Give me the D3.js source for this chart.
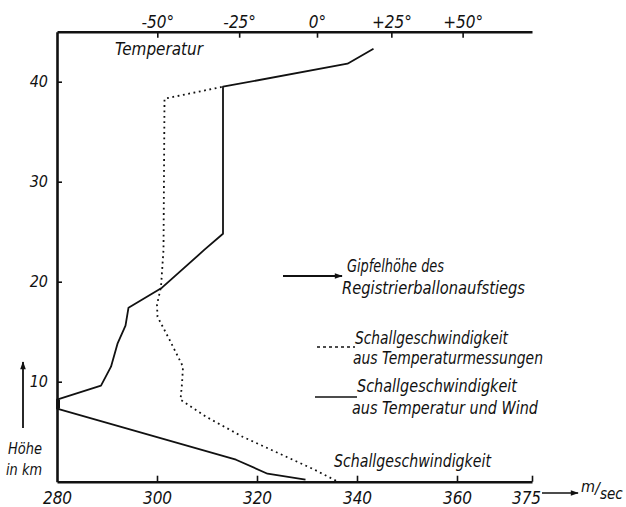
<!DOCTYPE html>
<html><head><meta charset="utf-8">
<script src="https://cdn.jsdelivr.net/npm/d3@7"></script>
<style>
html,body{margin:0;padding:0;background:#fff;}
svg text{font-family:"Liberation Sans Narrow","DejaVu Sans Condensed","Liberation Sans",sans-serif;font-style:italic;fill:#111;}
</style></head>
<body><svg id="c" width="626" height="507"></svg>
<script>
// ---- data ----
const heightTicks = [10, 20, 30, 40];
const speedTicks = [280, 300, 320, 340, 360, 375];
const tempTicks = [-50, -25, 0, 25, 50];
const tempTickLabels = ["-50°", "-25°", "0°", "+25°", "+50°"];
// Schallgeschwindigkeit aus Temperatur und Wind (solid)
const windSpeed  = [329.7, 322.1, 315.8, 280.0, 280.0, 288.8, 290.8, 292.1, 293.7, 294.3, 301.0, 309.5, 313.2, 313.2, 338.1, 343.3];
const windHeight = [0.2,   0.8,   2.2,   7.3,   8.2,   9.6,   11.5,  13.8,  15.6,  17.4,  19.4,  23.2,  24.8,  39.5,  41.8,  43.3];
// Schallgeschwindigkeit aus Temperaturmessungen (dotted)
const tempSpeed  = [335.8, 331.1, 317.1, 309.8, 304.7, 305.0, 305.2, 302.5, 300.1, 300.0, 300.8, 301.3, 301.5, 313.2];
const tempHeight = [0.1,   1.3,   4.5,   6.5,   8.2,   9.8,   11.5,  14.2,  16.5,  17.7,  19.5,  23.2,  38.3,  39.5];

const svg = d3.select("#c");
const x = d3.scaleLinear().domain([280, 375]).range([57, 532]);
const y = d3.scaleLinear().domain([0, 45]).range([481.7, 31.7]);
const tempToSpeed = t => 332 * Math.sqrt(1 + t / 273);
const ink = "#111";

// axes
const gB = svg.append("g").attr("transform", `translate(0,${y(0)})`)
  .call(d3.axisBottom(x).tickValues(speedTicks).tickSizeInner(-6).tickSizeOuter(0).tickPadding(10).tickFormat(d3.format("d")));
const gL = svg.append("g").attr("transform", `translate(${x(280)},0)`)
  .call(d3.axisLeft(y).tickValues(heightTicks).tickSizeInner(-5).tickSizeOuter(0).tickPadding(9).tickFormat(d3.format("d")));
const gT = svg.append("g").attr("transform", `translate(0,${y(45)})`)
  .call(d3.axisTop(x).tickValues(tempTicks.map(tempToSpeed)).tickSizeInner(-6).tickSizeOuter(0).tickPadding(4)
    .tickFormat((d, i) => tempTickLabels[i]));
[gB, gL, gT].forEach(g => {
  g.select(".domain").attr("stroke", ink).attr("stroke-width", 2.6);
  g.selectAll(".tick line").attr("stroke", ink).attr("stroke-width", 1.6);
  g.selectAll(".tick text").attr("font-size", 17).attr("fill", ink)
    .style("font-family", '"Liberation Sans Narrow","DejaVu Sans Condensed",sans-serif').style("font-style", "italic");
});
gL.selectAll(".tick text").attr("font-size", 16);
gB.selectAll(".tick").filter(d => d === 280).select("line").remove();
gB.selectAll(".tick").filter(d => d === 375).select("text").attr("dx", -6);

// lines
const line = d3.line().x(d => x(d[0])).y(d => y(d[1]));
svg.append("path").datum(tempSpeed.map((v, i) => [v, tempHeight[i]]))
  .attr("d", line).attr("fill", "none").attr("stroke", ink).attr("stroke-width", 1.8)
  .attr("stroke-dasharray", "1.8,3.6");
svg.append("path").datum(windSpeed.map((v, i) => [v, windHeight[i]]))
  .attr("d", line).attr("fill", "none").attr("stroke", ink).attr("stroke-width", 1.8).attr("stroke-linejoin", "round");
svg.append("line").attr("x1", x(280) + 1.5).attr("x2", x(280) + 1.5).attr("y1", y(8.2)).attr("y2", y(7.3))
  .attr("stroke", ink).attr("stroke-width", 3);

// arrow markers
const defs = svg.append("defs");
defs.append("marker").attr("id", "ah").attr("viewBox", "0 0 10 10").attr("refX", 9).attr("refY", 5)
  .attr("markerWidth", 10).attr("markerHeight", 8).attr("markerUnits", "userSpaceOnUse").attr("orient", "auto")
  .append("path").attr("d", "M0,1.5 L10,5 L0,8.5 Z").attr("fill", ink);

function txt(s, xx, yy, size, len) {
  const t = svg.append("text").attr("x", xx).attr("y", yy).attr("font-size", size).text(s);
  if (len) t.attr("textLength", len).attr("lengthAdjust", "spacingAndGlyphs");
  return t;
}

txt("Temperatur", 115, 55, 17, 88);

svg.append("line").attr("x1", 283).attr("x2", 342).attr("y1", 276).attr("y2", 276)
  .attr("stroke", ink).attr("stroke-width", 1.8).attr("marker-end", "url(#ah)");
txt("Gipfelhöhe des", 347, 272, 17, 97);
txt("Registrierballonaufstiegs", 342, 294, 17, 183);

svg.append("line").attr("x1", 317).attr("x2", 355).attr("y1", 347).attr("y2", 347)
  .attr("stroke", ink).attr("stroke-width", 1.4).attr("stroke-dasharray", "3,3");
txt("Schallgeschwindigkeit", 355, 344, 17, 153);
txt("aus Temperaturmessungen", 353, 364, 17, 190);
svg.append("line").attr("x1", 315).attr("x2", 357).attr("y1", 397).attr("y2", 397)
  .attr("stroke", ink).attr("stroke-width", 1.4);
txt("Schallgeschwindigkeit", 357, 392, 17, 160);
txt("aus Temperatur und Wind", 352, 414, 17, 186);

txt("Schallgeschwindigkeit", 334, 467, 17, 157);

svg.append("line").attr("x1", 542).attr("x2", 578).attr("y1", 493).attr("y2", 493)
  .attr("stroke", ink).attr("stroke-width", 1.6).attr("marker-end", "url(#ah)");
const u = svg.append("text").attr("x", 581).attr("y", 497).attr("font-size", 16);
u.append("tspan").attr("dy", -5).text("m");
u.append("tspan").attr("dy", 2).text("/");
u.append("tspan").attr("dy", 5).attr("font-size", 15).text("sec");

svg.append("line").attr("x1", 23).attr("x2", 23).attr("y1", 428).attr("y2", 362)
  .attr("stroke", ink).attr("stroke-width", 1.8).attr("marker-end", "url(#ah)");
txt("Höhe", 8, 454, 16, 34);
txt("in km", 6, 475, 16, 36);
</script></body></html>
